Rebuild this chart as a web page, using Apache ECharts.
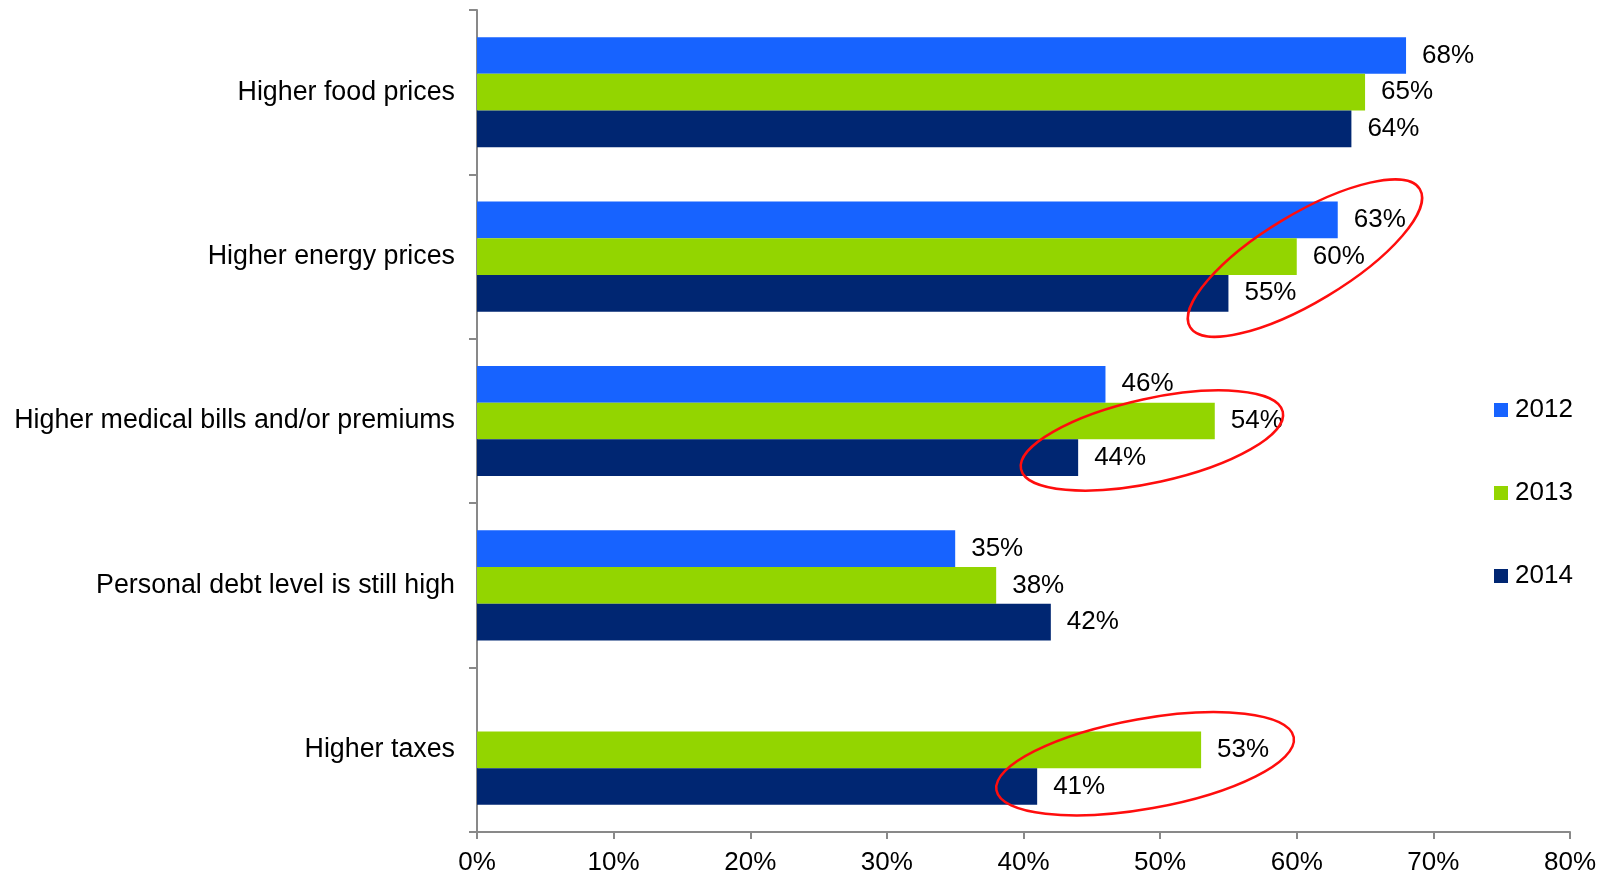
<!DOCTYPE html>
<html>
<head>
<meta charset="utf-8">
<script src="https://cdn.jsdelivr.net/npm/echarts@6/dist/echarts.min.js"></script>
<style>
  html, body { margin: 0; padding: 0; background: #ffffff; }
  #chart { width: 1606px; height: 877px; }
</style>
</head>
<body>
<div id="chart"></div>
<script>
// Reasons given for a tighter household budget, share of respondents (%)
const categories = [
  'Higher food prices',
  'Higher energy prices',
  'Higher medical bills and/or premiums',
  'Personal debt level is still high',
  'Higher taxes'
];
const seriesNames = ['2012', '2013', '2014'];
const values2012 = [68, 63, 46, 35, null];
const values2013 = [65, 60, 54, 38, 53];
const values2014 = [64, 55, 44, 42, 41];
const xTicks = [0, 10, 20, 30, 40, 50, 60, 70, 80];

const colors = ['#1763ff', '#93d500', '#002672'];
const FONT = '"Liberation Sans", Arial, sans-serif';

const chart = echarts.init(document.getElementById('chart'), null, { renderer: 'canvas' });

function barSeries(name, data, color) {
  return {
    name: name,
    type: 'bar',
    data: data,
    barGap: '0%',
    barCategoryGap: '33%',
    itemStyle: { color: color },
    label: {
      show: true,
      position: 'right',
      distance: 16,
      formatter: p => p.value + '%',
      color: '#000',
      fontFamily: FONT,
      fontSize: 26
    },
    emphasis: { disabled: true }
  };
}

chart.setOption({
  animation: false,
  backgroundColor: '#ffffff',
  textStyle: { fontFamily: FONT },
  grid: { left: 477, right: 36, top: 10, bottom: 45, containLabel: false },
  legend: {
    orient: 'vertical',
    left: 1489,
    top: 392,
    data: seriesNames,
    icon: 'rect',
    itemWidth: 14,
    itemHeight: 14,
    itemGap: 57,
    textStyle: { fontFamily: FONT, fontSize: 26, color: '#000', padding: [0, 0, 0, 2] },
    selectedMode: false
  },
  xAxis: {
    type: 'value',
    min: xTicks[0],
    max: xTicks[xTicks.length - 1],
    interval: 10,
    splitLine: { show: false },
    axisLine: { show: true, lineStyle: { color: '#898989', width: 2 } },
    axisTick: { show: true, length: 7, lineStyle: { color: '#898989', width: 2 } },
    axisLabel: {
      formatter: v => v + '%',
      color: '#000',
      fontFamily: FONT,
      fontSize: 26,
      margin: 18
    }
  },
  yAxis: {
    type: 'category',
    data: categories,
    inverse: true,
    axisLine: { show: true, lineStyle: { color: '#898989', width: 2 } },
    axisTick: { show: true, length: 8, lineStyle: { color: '#898989', width: 2 } },
    axisLabel: {
      color: '#000',
      fontFamily: FONT,
      fontSize: 26.8,
      margin: 22
    }
  },
  series: [
    barSeries(seriesNames[0], values2012, colors[0]),
    barSeries(seriesNames[1], values2013, colors[1]),
    barSeries(seriesNames[2], values2014, colors[2])
  ]
});

// Red rings calling out the notable year-on-year changes, drawn over the bars.
// Centre given in axis units (value, category index) plus a small vertical nudge in px.
const rings = [
  { value: 60.6, cat: 1, dy: 1.5, rx: 134, ry: 44, angle: 31 },
  { value: 49.4, cat: 2, dy: 19.5, rx: 134, ry: 42, angle: 12.4 },
  { value: 48.9, cat: 4, dy: 14, rx: 151, ry: 45, angle: 10.1 }
];

const graphics = rings.map(r => {
  const p = chart.convertToPixel({ gridIndex: 0 }, [r.value, r.cat]);
  return {
    type: 'group',
    x: p[0],
    y: p[1] + r.dy,
    rotation: r.angle * Math.PI / 180,
    silent: true,
    children: [{
      type: 'ellipse',
      z: 100,
      shape: { cx: 0, cy: 0, rx: r.rx, ry: r.ry },
      style: { fill: null, stroke: '#ff0d0d', lineWidth: 2.5 }
    }]
  };
});

chart.setOption({ graphic: { z: 100, elements: graphics } });
</script>
</body>
</html>
